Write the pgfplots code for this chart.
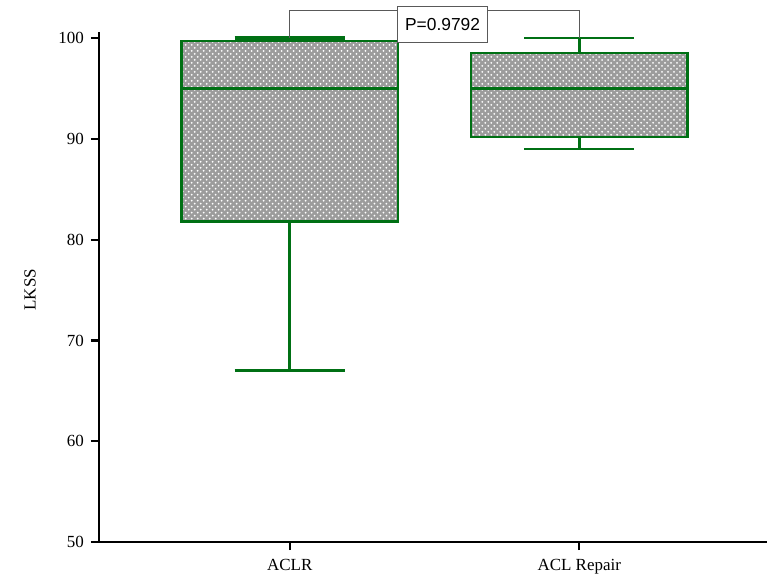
\documentclass[border=0pt]{standalone}
\usepackage{pgfplots}
\pgfplotsset{compat=1.18}
\usetikzlibrary{patterns}
\usepackage{fontspec}
\setmainfont{Liberation Serif}
\newfontfamily\psans{Liberation Sans}
\definecolor{bgreen}{RGB}{0,112,20}
\begin{document}
\begin{tikzpicture}
\begin{axis}[
  name=ax,
  scale only axis,
  width=334.5pt, height=255.5pt,
  xmin=0.341, xmax=2.648,
  ymin=50, ymax=100.6,
  axis x line=bottom, axis y line=left,
  axis line style={line width=1.1pt, -},
  xtick={1,2}, xticklabels={ACLR, ACL Repair},
  ytick={50,60,70,80,90,100},
  tick style={line width=1.1pt, black},
  major tick length=4pt,
  tick align=outside,
  ticklabel style={font=\fontsize{8.5}{10}\selectfont},
  /pgf/number format/assume math mode=true,
  xticklabel style={yshift=-1pt},
  ylabel={LKSS},
  ylabel style={font=\fontsize{8.5}{10}\selectfont, at={(axis description cs:-0.103,0.495)}, anchor=center},
  clip=false,
]
% ACLR: box Q1=81.8, Q3=99.7, median 95, whiskers 67 / 100
\addplot[draw=bgreen, line width=1.3pt, fill=gray!78,
  postaction={pattern=crosshatch dots, pattern color=white}]
  coordinates {(0.626,81.8) (1.374,81.8) (1.374,99.7) (0.626,99.7)} -- cycle;
\addplot[bgreen, line width=1.3pt] coordinates {(0.626,95) (1.374,95)};
\addplot[bgreen, line width=1.3pt] coordinates {(1,81.8) (1,67)};
\addplot[bgreen, line width=1.3pt] coordinates {(0.81,67) (1.19,67)};
\addplot[bgreen, line width=1.3pt] coordinates {(1,99.7) (1,100)};
\addplot[bgreen, line width=1.6pt] coordinates {(0.81,100) (1.19,100)};
% ACL Repair: box Q1=90.2, Q3=98.5, median 95, whiskers 89 / 100
\addplot[draw=bgreen, line width=1.3pt, fill=gray!78,
  postaction={pattern=crosshatch dots, pattern color=white}]
  coordinates {(1.626,90.2) (2.374,90.2) (2.374,98.5) (1.626,98.5)} -- cycle;
\addplot[bgreen, line width=1.3pt] coordinates {(1.626,95) (2.374,95)};
\addplot[bgreen, line width=1.3pt] coordinates {(2,90.2) (2,89)};
\addplot[bgreen, line width=1.3pt] coordinates {(1.81,89) (2.19,89)};
\addplot[bgreen, line width=1.3pt] coordinates {(2,98.5) (2,100)};
\addplot[bgreen, line width=1.3pt] coordinates {(1.81,100) (2.19,100)};
\draw[gray!70!black, line width=0.5pt] (axis cs:1,100) -- (axis cs:1,102.77) -- (axis cs:2,102.77) -- (axis cs:2,100);
\node[draw=gray!70!black, line width=0.5pt, fill=white, font=\psans\fontsize{8.7}{10}\selectfont, minimum width=45pt, minimum height=18pt, inner sep=1pt] at (axis cs:1.528,101.3) {P=0.9792};
\end{axis}
\path (ax.south west) ++(-49.5pt,-21pt) coordinate (bl);
\path (ax.north east) ++(0,16pt) coordinate (tr);
\path (bl) rectangle (tr);
\end{tikzpicture}
\end{document}
